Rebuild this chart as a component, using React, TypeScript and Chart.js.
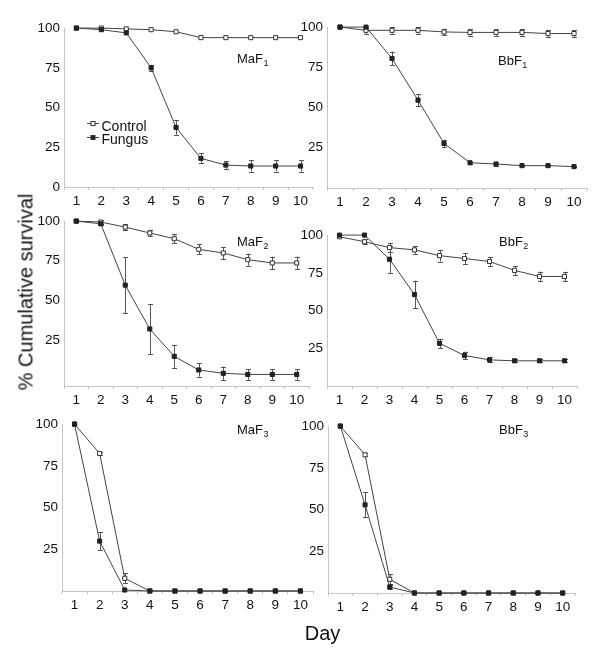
import React, { useEffect, useRef } from "react";
import { Chart, registerables } from "chart.js";

Chart.register(...registerables);

// ---------------- data ----------------
const days = ["1", "2", "3", "4", "5", "6", "7", "8", "9", "10"];

const maF1Control = [100, 100, 99.5, 99, 97.7, 94, 94, 94, 94, 94];
const maF1ControlErr = [0, 0, 0, 0, 0, 0, 0, 0, 0, 0];
const maF1Fungus = [100, 99, 97, 75, 37.5, 18, 13.8, 13.2, 13.2, 13.2];
const maF1FungusErr = [0, 0, 0, 1.9, 4.5, 3.1, 2.3, 3.5, 3.5, 3.5];

const bbF1Control = [100, 98, 98, 98, 97, 96.7, 96.7, 96.7, 96, 96];
const bbF1ControlErr = [0, 2.2, 2, 2, 2, 2, 2, 2, 2, 2];
const bbF1Fungus = [100, 100, 80.5, 54.6, 27.7, 15.7, 14.9, 13.9, 13.9, 13.3];
const bbF1FungusErr = [0, 0, 4.3, 3.8, 2.4, 0.6, 1.5, 0.5, 0.5, 0.5];

const maF2Control = [100, 99.4, 96.2, 92.5, 88.9, 82.2, 79.9, 75.7, 73.6, 73.6];
const maF2ControlErr = [0, 1, 1.9, 2, 2.9, 3.1, 3.8, 3.8, 4, 4];
const maF2Fungus = [100, 98.3, 59.6, 32, 14.7, 6.1, 4, 3.3, 3.3, 3.3];
const maF2FungusErr = [0, 1, 17.8, 15.7, 7.3, 4.2, 4.2, 3.4, 3.4, 3.4];

const bbF2Control = [98.9, 95.6, 91.7, 90.2, 86.4, 84.5, 82.5, 76.6, 72.6, 72.6];
const bbF2ControlErr = [0, 1.5, 2.8, 2.6, 3.9, 3.5, 2.8, 3, 3.2, 3.1];
const bbF2Fungus = [100, 100, 84, 60.6, 28.3, 20.2, 17.3, 16.7, 16.7, 16.7];
const bbF2FungusErr = [0, 0, 9.1, 9.2, 3, 2.6, 1.7, 1, 1, 1];

const maF3Control = [100, 82.4, 7.6, 0, 0, 0, 0, 0, 0, 0];
const maF3ControlErr = [0, 1, 3, 0, 0, 0, 0, 0, 0, 0];
const maF3Fungus = [100, 29.9, 0.6, 0, 0, 0, 0, 0, 0, 0];
const maF3FungusErr = [0, 5.5, 0, 0, 0, 0, 0, 0, 0, 0];

const bbF3Control = [100, 82.8, 8.2, 0, 0, 0, 0, 0, 0, 0];
const bbF3ControlErr = [0, 1, 3, 0, 0, 0, 0, 0, 0, 0];
const bbF3Fungus = [100, 52.8, 3.6, 0, 0, 0, 0, 0, 0, 0];
const bbF3FungusErr = [0, 7.5, 1, 0, 0, 0, 0, 0, 0, 0];

const yTicksWithZero = [0, 25, 50, 75, 100];
const yTicksNoZero = [25, 50, 75, 100];

const legendLabels = ["Control", "Fungus"];
const yTitle = "% Cumulative survival";
const xTitle = "Day";

// ---------------- layout ----------------
const FONT = "'Liberation Sans', Arial, Helvetica, sans-serif";
const Y_W = 50;
const X_H = 30;
const PAD_T = 12;
const PAD_R = 12;
const AXIS_COLOR = "#c4c4c4";
const LINE_COLOR = "#444";

type PanelCfg = {
  name: string;
  sub: string;
  control: number[];
  controlErr: number[];
  fungus: number[];
  fungusErr: number[];
  yMin: number;
  yTicks: number[];
  area: { left: number; right: number; top: number; bottom: number };
  label: { x: number; y: number };
  legend?: boolean;
};

const panels: PanelCfg[] = [
  {
    name: "MaF", sub: "1",
    control: maF1Control, controlErr: maF1ControlErr,
    fungus: maF1Fungus, fungusErr: maF1FungusErr,
    yMin: 0, yTicks: yTicksWithZero,
    area: { left: 64, right: 313, top: 28, bottom: 187 },
    label: { x: 237, y: 63 },
    legend: true,
  },
  {
    name: "BbF", sub: "1",
    control: bbF1Control, controlErr: bbF1ControlErr,
    fungus: bbF1Fungus, fungusErr: bbF1FungusErr,
    yMin: 0, yTicks: yTicksNoZero,
    area: { left: 327, right: 587, top: 27, bottom: 188 },
    label: { x: 498, y: 65 },
  },
  {
    name: "MaF", sub: "2",
    control: maF2Control, controlErr: maF2ControlErr,
    fungus: maF2Fungus, fungusErr: maF2FungusErr,
    yMin: -4, yTicks: yTicksNoZero,
    area: { left: 64, right: 309, top: 221, bottom: 386 },
    label: { x: 237, y: 246 },
  },
  {
    name: "BbF", sub: "2",
    control: bbF2Control, controlErr: bbF2ControlErr,
    fungus: bbF2Fungus, fungusErr: bbF2FungusErr,
    yMin: 0, yTicks: yTicksNoZero,
    area: { left: 327, right: 577, top: 235, bottom: 386 },
    label: { x: 499, y: 246 },
  },
  {
    name: "MaF", sub: "3",
    control: maF3Control, controlErr: maF3ControlErr,
    fungus: maF3Fungus, fungusErr: maF3FungusErr,
    yMin: 0, yTicks: yTicksNoZero,
    area: { left: 62, right: 313, top: 424, bottom: 591 },
    label: { x: 237, y: 434 },
  },
  {
    name: "BbF", sub: "3",
    control: bbF3Control, controlErr: bbF3ControlErr,
    fungus: bbF3Fungus, fungusErr: bbF3FungusErr,
    yMin: 0, yTicks: yTicksNoZero,
    area: { left: 328, right: 575, top: 426, bottom: 593 },
    label: { x: 499, y: 434 },
  },
];

// ---------------- plugins ----------------
const errorBarPlugin = {
  id: "errorBars",
  beforeDatasetsDraw(chart: any) {
    const ctx = chart.ctx;
    const yScale = chart.scales.y;
    ctx.save();
    ctx.strokeStyle = "#555";
    ctx.lineWidth = 1;
    chart.data.datasets.forEach((ds: any, i: number) => {
      const meta = chart.getDatasetMeta(i);
      const errs: number[] = ds.errors || [];
      meta.data.forEach((pt: any, j: number) => {
        const e = errs[j];
        if (!e) return;
        const v = ds.data[j];
        const x = Math.round(pt.x) + 0.5;
        const yTop = yScale.getPixelForValue(v + e);
        const yBot = yScale.getPixelForValue(v - e);
        ctx.beginPath();
        ctx.moveTo(x, yTop);
        ctx.lineTo(x, yBot);
        ctx.moveTo(x - 2.5, Math.round(yTop) + 0.5);
        ctx.lineTo(x + 2.5, Math.round(yTop) + 0.5);
        ctx.moveTo(x - 2.5, Math.round(yBot) + 0.5);
        ctx.lineTo(x + 2.5, Math.round(yBot) + 0.5);
        ctx.stroke();
      });
    });
    ctx.restore();
  },
};

const panelDecorPlugin = {
  id: "panelDecor",
  afterDraw(chart: any) {
    const opts = chart.options.plugins.panelDecor;
    if (!opts) return;
    const ctx = chart.ctx;
    const ox = opts.ox;
    const oy = opts.oy;
    ctx.save();
    ctx.fillStyle = "#111";
    ctx.textBaseline = "alphabetic";
    ctx.textAlign = "left";
    ctx.font = `13px ${FONT}`;
    const lx = opts.label.x - ox;
    const ly = opts.label.y - oy;
    ctx.fillText(opts.name, lx, ly);
    const w = ctx.measureText(opts.name).width;
    ctx.font = `9px ${FONT}`;
    ctx.fillText(opts.sub, lx + w + 0.5, ly + 3);

    if (opts.legend) {
      const items = [
        { text: legendLabels[0], fill: "#fff", y: 123.5, ty: 127 },
        { text: legendLabels[1], fill: "#222", y: 137.5, ty: 140.5 },
      ];
      items.forEach((it) => {
        const yy = it.y - oy;
        ctx.strokeStyle = LINE_COLOR;
        ctx.lineWidth = 1;
        ctx.beginPath();
        ctx.moveTo(87 - ox, yy);
        ctx.lineTo(99 - ox, yy);
        ctx.stroke();
        ctx.fillStyle = it.fill;
        ctx.fillRect(91 - ox, yy - 2, 4, 4);
        ctx.strokeStyle = "#333";
        ctx.strokeRect(91 - ox, yy - 2, 4, 4);
        ctx.fillStyle = "#111";
        ctx.font = `14px ${FONT}`;
        ctx.textBaseline = "middle";
        ctx.fillText(it.text, 101.5 - ox, it.ty - oy);
      });
    }
    ctx.restore();
  },
};

// ---------------- component ----------------
function Panel({ cfg }: { cfg: PanelCfg }) {
  const ref = useRef<HTMLCanvasElement | null>(null);
  const { area } = cfg;
  const canvasLeft = area.left - Y_W;
  const canvasTop = area.top - PAD_T;
  const width = area.right - area.left + Y_W + PAD_R;
  const height = area.bottom - area.top + PAD_T + X_H;

  useEffect(() => {
    if (!ref.current) return;
    const chart = new Chart(ref.current, {
      type: "line",
      data: {
        labels: days,
        datasets: [
          {
            label: legendLabels[1],
            data: cfg.fungus,
            errors: cfg.fungusErr,
            borderColor: LINE_COLOR,
            borderWidth: 1,
            pointStyle: "rect",
            pointRadius: 2.9,
            pointBorderWidth: 1,
            pointBackgroundColor: "#222",
            pointBorderColor: "#222",
            tension: 0,
            clip: false,
          } as any,
          {
            label: legendLabels[0],
            data: cfg.control,
            errors: cfg.controlErr,
            borderColor: LINE_COLOR,
            borderWidth: 1,
            pointStyle: "rect",
            pointRadius: 2.9,
            pointBorderWidth: 1,
            pointBackgroundColor: "#fff",
            pointBorderColor: "#333",
            tension: 0,
            clip: false,
          } as any,
        ],
      },
      options: {
        responsive: false,
        animation: false,
        events: [],
        layout: { padding: { top: PAD_T, right: PAD_R, left: 0, bottom: 0 } },
        plugins: {
          legend: { display: false },
          tooltip: { enabled: false },
          title: { display: false },
          panelDecor: {
            name: cfg.name,
            sub: cfg.sub,
            label: cfg.label,
            legend: !!cfg.legend,
            ox: canvasLeft,
            oy: canvasTop,
          },
        } as any,
        scales: {
          x: {
            type: "category",
            offset: true,
            grid: {
              offset: true,
              drawOnChartArea: false,
              drawTicks: true,
              tickLength: 3,
              color: AXIS_COLOR,
            },
            border: { display: true, color: AXIS_COLOR, width: 1 },
            ticks: {
              autoSkip: false,
              maxRotation: 0,
              padding: 3,
              color: "#111",
              font: { family: FONT, size: 13.5 },
            },
            afterFit: (scale: any) => {
              scale.height = X_H;
            },
          },
          y: {
            type: "linear",
            min: cfg.yMin,
            max: 100,
            grid: { drawOnChartArea: false, drawTicks: false, color: AXIS_COLOR },
            border: { display: true, color: AXIS_COLOR, width: 1 },
            ticks: {
              padding: 4,
              color: "#111",
              font: { family: FONT, size: 13.5 },
            },
            afterBuildTicks: (scale: any) => {
              scale.ticks = cfg.yTicks.map((v) => ({ value: v }));
            },
            afterFit: (scale: any) => {
              scale.width = Y_W;
            },
          },
        },
      },
      plugins: [errorBarPlugin, panelDecorPlugin],
    });
    return () => chart.destroy();
  }, []);

  return (
    <canvas
      ref={ref}
      width={width}
      height={height}
      style={{ position: "absolute", left: canvasLeft, top: canvasTop, width, height }}
    />
  );
}

export default function App() {
  return (
    <div
      style={{
        position: "absolute",
        left: 0,
        top: 0,
        width: 600,
        height: 654,
        background: "#fff",
        overflow: "hidden",
        fontFamily: FONT,
      }}
    >
      {panels.map((p, i) => (
        <Panel key={i} cfg={p} />
      ))}
      <div
        style={{
          position: "absolute",
          left: 25.5,
          top: 292,
          transform: "translate(-50%, -50%) rotate(-90deg)",
          fontSize: 20,
          lineHeight: "23px",
          whiteSpace: "nowrap",
          color: "#111",
        }}
      >
        {yTitle}
      </div>
      <div
        style={{
          position: "absolute",
          left: 322.5,
          top: 622,
          transform: "translateX(-50%)",
          fontSize: 20,
          lineHeight: "23px",
          whiteSpace: "nowrap",
          color: "#111",
        }}
      >
        {xTitle}
      </div>
    </div>
  );
}
